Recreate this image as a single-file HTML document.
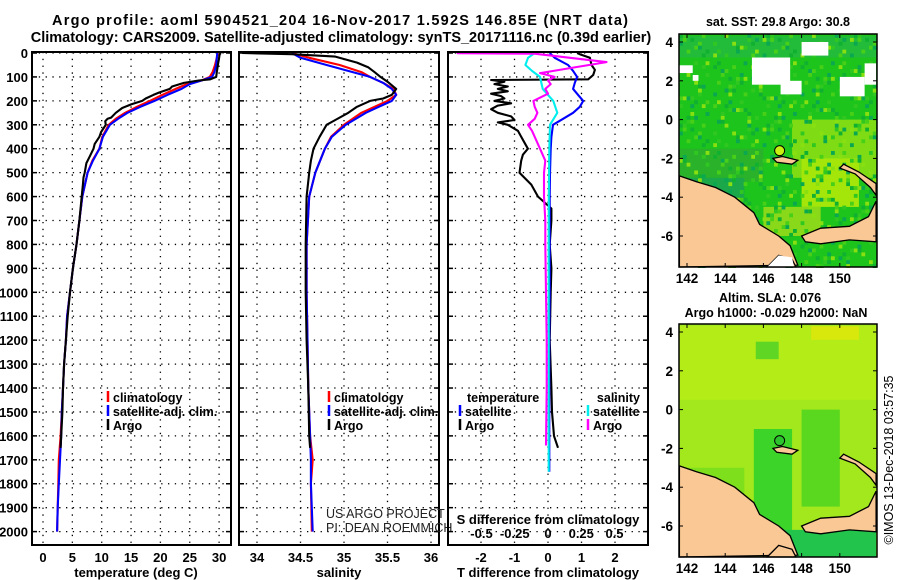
<!DOCTYPE html>
<html><head><meta charset="utf-8"><style>
html,body{margin:0;padding:0;background:#fff}
svg{display:block;font-family:"Liberation Sans",sans-serif}
.b{font-weight:bold}
</style></head><body>
<svg id="s" width="900" height="580" viewBox="0 0 900 580" xmlns="http://www.w3.org/2000/svg">
<text class="b" x="52" y="25" font-size="14.5" textLength="576" lengthAdjust="spacing">Argo profile: aoml 5904521_204 16-Nov-2017 1.592S 146.85E (NRT data)</text>
<text class="b" x="341" y="42" font-size="14.5" text-anchor="middle">Climatology: CARS2009. Satellite-adjusted climatology: synTS_20171116.nc (0.39d earlier)</text>
<g id="g"></g>
</svg>
<script>
// ---- depth axis ----
const depthTicks=[0,100,200,300,400,500,600,700,800,900,1000,1100,1200,1300,1400,1500,1600,1700,1800,1900,2000];
// ---- temperature panel ----
const tempTicks=[0,5,10,15,20,25,30];
const argoDepth=[0,5,20,50,80,100,110,115,125,140,150,165,175,190,200,215,230,250,270,275,285,300,330,350,380,400,430,460,500,520,550,600,700,800,900,1000,1100,1200,1300,1400,1500,1600,1650];
const argoTemp=[30.3,30.1,30.0,29.8,29.6,29.5,28.5,26.5,24,22,21.6,19.8,18.8,17.5,16.9,15,13.5,12.4,11.6,11.0,10.6,10.7,9.9,9.6,8.8,8.6,8.0,7.4,7.1,6.9,6.8,6.6,6.2,5.7,5.1,4.6,4.2,3.9,3.6,3.4,3.3,3.1,3.0];
const climDepth=[0,20,50,80,100,115,130,150,175,200,225,250,275,300,350,400,450,500,600,700,800,900,1000,1100,1200,1300,1400,1500,1600,1700,1800,1900,2000];
const climTemp=[29.8,29.6,29.3,28.9,28.4,27,24.5,22.6,20.3,18.2,16,14,12.4,11.2,10.1,9.6,8.4,7.6,6.7,6.2,5.7,5.1,4.6,4.1,3.9,3.6,3.4,3.2,3.0,2.7,2.6,2.5,2.4];
const satTemp=[29.7,29.6,29.5,29.2,28.8,27,25,23.6,21.2,19.0,16.6,14.4,12.8,11.4,10.2,9.6,8.5,7.6,6.7,6.2,5.7,5.1,4.6,4.1,3.9,3.6,3.4,3.2,3.1,2.9,2.7,2.5,2.4];
// ---- salinity panel ----
const salTicks=[34,34.5,35,35.5,36];
const salTickLabels=["34","34.5","35","35.5","36"];
const argoSalDepth=[0,5,15,40,60,80,100,120,150,175,190,200,225,250,280,300,350,400,450,500,600,800,1000,1200,1400,1600,1650];
const argoSal=[33.83,34.4,34.9,35.15,35.28,35.35,35.42,35.5,35.6,35.55,35.45,35.3,35.15,35.05,34.9,34.8,34.72,34.65,34.62,34.6,34.57,34.56,34.56,34.57,34.59,34.6,34.61];
const climSalDepth=[0,20,50,80,100,125,150,175,200,225,250,300,350,400,500,600,800,1000,1200,1400,1600,1700,1800,2000];
const climSal=[34.4,34.6,34.95,35.2,35.3,35.45,35.57,35.6,35.5,35.35,35.2,35.0,34.85,34.78,34.67,34.6,34.57,34.57,34.58,34.59,34.61,34.64,34.62,34.63];
const satSal=[34.4,34.5,34.8,35.1,35.3,35.45,35.55,35.6,35.55,35.4,35.25,35.02,34.86,34.78,34.67,34.6,34.57,34.57,34.58,34.59,34.61,34.62,34.62,34.64];
// ---- difference panel ----
const tDiffTicks=[-2,-1,0,1,2];
const sDiffTicks=[-0.5,-0.25,0,0.25,0.5];
const sDiffLabels=["-0.5","-0.25","0","0.25","0.5"];
const dTArgoDepth=[0,5,20,50,70,92,110,113,120,130,140,150,160,170,180,190,200,210,220,235,250,265,280,290,300,325,350,375,400,425,450,500,550,600,650,700,800,900,1000,1200,1400,1500,1600,1650];
const dTArgo=[0.87,0.95,1.25,1.3,1.4,1.35,1.2,-1.7,-1.3,-1.6,-1.2,-1.5,-1.2,-1.7,-1.4,-1.3,-1.6,-1.1,-1.5,-1.7,-1.5,-1.1,-1.0,-1.5,-1.2,-0.9,-0.8,-0.7,-0.6,-0.75,-0.8,-0.85,-0.5,-0.3,0.1,0.1,0.05,0.1,0.08,0.05,0.1,0.12,0.18,0.3];
const dTSatDepth=[0,20,50,75,100,125,150,175,200,225,250,275,300,350,400,500,600,800,1000,1200,1400,1600,1750];
const dTSat=[0.05,0.2,0.6,0.75,0.87,0.8,0.75,0.9,1.05,0.95,0.75,0.45,0.15,0.1,0.08,0.06,0.05,0.05,0.05,0.04,0.04,0.04,0.04];
const dSArgoDepth=[0,1,3,38,60,84,100,115,130,150,170,200,225,250,275,300,325,350,400,450,500,600,700,800,1000,1200,1400,1640];
const dSArgo=[-0.68,-0.68,-0.1,0.44,0.2,-0.06,0.05,0.0,0.02,-0.02,0.0,-0.11,-0.1,-0.08,-0.1,-0.15,-0.12,-0.1,-0.06,-0.02,-0.03,-0.03,-0.02,-0.02,-0.015,-0.01,-0.01,-0.015];
const dSSatDepth=[0,20,50,75,100,150,200,250,300,400,600,800,1000,1200,1400,1600,1750];
const dSSat=[-0.1,-0.15,-0.17,-0.12,-0.06,-0.04,0.04,0.07,0.015,0.01,0.006,0.005,0.005,0.005,0.005,0.005,0.005];
// ---- map axes ----
const lonTicks=[142,144,146,148,150];
const latTicks=[4,2,0,-2,-4,-6];

const NS="http://www.w3.org/2000/svg";
const G=document.getElementById('g');
function mk(tag,attrs,parent,txt){const e=document.createElementNS(NS,tag);for(const k in attrs)e.setAttribute(k,attrs[k]);if(txt!==undefined)e.textContent=txt;(parent||G).appendChild(e);return e;}
const yD=d=>53+d*0.2393;
const PT={x0:32,x1:231}, PS={x0:239,x1:439}, PD={x0:448,x1:648};
const xT=v=>43+v*5.87;
const xS=v=>257+(v-34)*87;
const xTD=v=>548+v*33.5;
const xSD=v=>548+v*133;
const TOP=52,BOT=545;

function gridV(p,xs){xs.forEach(x=>{const l=mk('line',{x1:x,x2:x,y1:TOP,y2:BOT,stroke:'#000','stroke-width':1.3,'stroke-dasharray':'1.3 5.5'});});}
function gridH(p){depthTicks.forEach(d=>{const l=mk('line',{x1:p.x0,x2:p.x1,y1:yD(d),y2:yD(d),stroke:'#000','stroke-width':1.3,'stroke-dasharray':'1.3 5.5'});
 const t1=mk('line',{x1:p.x0,x2:p.x0+5,y1:yD(d),y2:yD(d),stroke:'#000','stroke-width':1.5});
 const t2=mk('line',{x1:p.x1-5,x2:p.x1,y1:yD(d),y2:yD(d),stroke:'#000','stroke-width':1.5});});}
function frame(p,name){const r=mk('rect',{x:p.x0,y:TOP,width:p.x1-p.x0,height:BOT-TOP,fill:'none',stroke:'#000','stroke-width':2});}
function line(xs,ds,fx,color,name,w){const pts=xs.map((v,i)=>fx(v).toFixed(1)+','+yD(ds[i]).toFixed(1)).join(' ');const l=mk('polyline',{points:pts,fill:'none',stroke:color,'stroke-width':w||2.1,'stroke-linejoin':'round'});}
function txt(x,y,s,opts,name){const t=mk('text',Object.assign({x:x,y:y,'font-size':13},opts||{}),G,s);return t;}
function legend(x,y,color,label,name){const l=mk('line',{x1:x,x2:x,y1:y-11,y2:y,stroke:color,'stroke-width':2.5});txt(x+5,y,label,{class:'b','font-size':12.5},name);}

// Panel 1
gridH(PT);gridV(PT,tempTicks.map(xT));
line(climTemp,climDepth,xT,'#f00','climatology-temp-line');
line(satTemp,climDepth,xT,'#00f','satellite-temp-line');
line(argoTemp,argoDepth,xT,'#000','argo-temp-line');
frame(PT,'temperature-panel');
depthTicks.forEach(d=>txt(28,yD(d)+5,String(d),{class:'b','text-anchor':'end'},'depth-label'));
tempTicks.forEach(v=>txt(xT(v),562,String(v),{class:'b','text-anchor':'middle'},'temperature-tick-label'));
txt(136,577,'temperature (deg C)',{class:'b','text-anchor':'middle'},'temperature-axis-title');
legend(108,402,'#f00','climatology','legend-climatology');
legend(108,416,'#00f','satellite-adj. clim.','legend-satellite');
legend(108,430,'#000','Argo','legend-argo');

// Panel 2
gridH(PS);gridV(PS,salTicks.map(xS));
line(climSal,climSalDepth,xS,'#f00','climatology-salinity-line');
line(satSal,climSalDepth,xS,'#00f','satellite-salinity-line');
line(argoSal,argoSalDepth,xS,'#000','argo-salinity-line');
frame(PS,'salinity-panel');
salTicks.forEach((v,i)=>txt(xS(v),562,salTickLabels[i],{class:'b','text-anchor':'middle'},'salinity-tick-label'));
txt(339,577,'salinity',{class:'b','text-anchor':'middle'},'salinity-axis-title');
legend(329,402,'#f00','climatology','legend-climatology');
legend(329,416,'#00f','satellite-adj. clim.','legend-satellite');
legend(329,430,'#000','Argo','legend-argo');
txt(326,518,'US ARGO PROJECT',{'font-size':12.5,fill:'#222'},'credit-line-1');
txt(326,532,'PI: DEAN ROEMMICH',{'font-size':12.5,fill:'#222'},'credit-line-2');

// Panel 3
gridH(PD);gridV(PD,tDiffTicks.map(xTD));
line(dTArgo,dTArgoDepth,xTD,'#000','argo-temp-diff-line');
line(dTSat,dTSatDepth,xTD,'#00f','satellite-temp-diff-line');
line(dSSat,dSSatDepth,xSD,'#0ee','satellite-salinity-diff-line');
line(dSArgo,dSArgoDepth,xSD,'#f0f','argo-salinity-diff-line');
frame(PD,'difference-panel');
txt(467,402,'temperature',{class:'b','font-size':12.5},'legend-temperature-heading');
legend(460,416,'#00f','satellite','legend-temp-satellite');
legend(460,430,'#000','Argo','legend-temp-argo');
txt(640,402,'salinity',{class:'b','font-size':12.5,'text-anchor':'end'},'legend-salinity-heading');
legend(588,416,'#0ee','satellite','legend-sal-satellite');
legend(588,430,'#f0f','Argo','legend-sal-argo');
txt(548,524,'S difference from climatology',{class:'b','text-anchor':'middle'},'s-diff-axis-title');
sDiffTicks.forEach((v,i)=>txt(xSD(v),538,sDiffLabels[i],{class:'b','text-anchor':'middle'},'s-diff-tick-label'));
tDiffTicks.forEach(v=>txt(xTD(v),562,String(v),{class:'b','text-anchor':'middle'},'t-diff-tick-label'));
txt(548,577,'T difference from climatology',{class:'b','text-anchor':'middle'},'t-diff-axis-title');

// Maps
function map(y0,kind){
 const X0=679,X1=877,Y1=y0+233;
 const lx=l=>687+(l-142)*19.1, ly=l=>(y0+8)+(4-l)*19.4;
 const grp=mk('g',{});
 mk('rect',{x:X0,y:y0,width:X1-X0,height:233,fill:kind==='sst'?'#1cc41c':'#a2e81c'},grp);
 if(kind==='sst'){
  [[141.6,-1.5,146,-3.2,'#2ab32a'],[147.5,0,151.9,-3,'#7fdc14'],[148,-2,151,-4.5,'#a5e60a'],[141.6,4.3,151.9,3.2,'#22bb3a'],[142,-3,145,-5,'#1aa84a'],[146,-4.5,149,-6,'#8ad81a']].forEach(r=>mk('rect',{x:lx(r[0]),y:ly(r[1]),width:lx(r[2])-lx(r[0]),height:ly(r[3])-ly(r[1]),fill:r[4]},grp));
  // pixel texture
  const cols=['#10b030','#48d018','#88e010','#0aa850','#30c820'];
  for(let i=0;i<52;i++)for(let j=0;j<60;j++){const h=(i*73+j*151+i*j*7)%23;if(h<5){mk('rect',{x:X0+i*3.8,y:y0+j*3.9,width:3.8,height:3.9,fill:cols[h]},grp);}}
  [[145.4,3.2,147.4,1.8],[146.9,2,148,1.3],[148,4,149.4,3.3],[150,2.2,151.3,1.2],[151.3,2.9,151.9,1.8],[141.6,2.8,142.3,2.4],[142.3,2.3,142.6,2.0]].forEach(r=>mk('rect',{x:lx(r[0]),y:ly(r[1]),width:lx(r[2])-lx(r[0]),height:ly(r[3])-ly(r[1]),fill:'#fff'},grp));
  mk('rect',{x:lx(143.8),y:ly(-5.1),width:18,height:14,fill:'#12d0d0'},grp);
 } else {
  [[141.6,4.3,151.9,0.5,'#b4ec18'],[145.5,-1,147.5,-7,'#3cd428'],[148,0,150,-5,'#5ad820'],[142,-3,145,-5,'#7ee01c'],[147,-6.2,151.9,-7.6,'#22c44c'],[145.6,3.5,146.8,2.6,'#60d624'],[148.5,4.3,151,3.6,'#d8e80c']].forEach(r=>mk('rect',{x:lx(r[0]),y:ly(r[1]),width:lx(r[2])-lx(r[0]),height:ly(r[3])-ly(r[1]),fill:r[4]},grp));
 }
 const land=[[[141.6,-2.9],[142.5,-3.2],[143.5,-3.5],[144.5,-4],[145.5,-4.8],[145.8,-5.4],[146.8,-6],[147.4,-6.5],[147.8,-7.5],[141.6,-7.6]],
  [[148,-6],[149,-5.6],[150.5,-5.5],[151.5,-5],[151.9,-4.2],[151.9,-6.3],[150.5,-6.2],[149,-6.4],[148.2,-6.3]],
  [[150,-2.5],[150.8,-2.8],[151.6,-3.5],[151.9,-3.9],[151.9,-3.3],[151,-2.7],[150.2,-2.3]],
  [[146.5,-2],[147,-1.9],[147.8,-2.1],[147.5,-2.3],[146.7,-2.2]],
  [[146.2,-7.6],[146.8,-7],[147.5,-7.2],[147.7,-7.6]]];
 land.forEach((poly,i)=>{const p=mk('polygon',{points:poly.map(q=>lx(q[0]).toFixed(1)+','+ly(q[1]).toFixed(1)).join(' '),fill:'#f9c894',stroke:'#000','stroke-width':1.3},grp);});
 if(kind==='sst'){mk('polygon',{points:[[146.2,-7.6],[146.8,-7],[147.5,-7.1],[147.6,-7.6]].map(q=>lx(q[0])+','+ly(q[1])).join(' '),fill:'#fff'},grp);}
 const c=mk('circle',{cx:lx(146.85),cy:ly(-1.6),r:5,fill:kind==='sst'?'#c8f010':'#2cc42c',stroke:'#000','stroke-width':1},grp);
 
 mk('rect',{x:X0,y:y0,width:X1-X0,height:233,fill:'none',stroke:'#000','stroke-width':1.5},grp);
 lonTicks.forEach(l=>{mk('line',{x1:lx(l),x2:lx(l),y1:y0,y2:y0+4,stroke:'#000'},grp);mk('line',{x1:lx(l),x2:lx(l),y1:Y1-4,y2:Y1,stroke:'#000'},grp);txt(lx(l),Y1+16,String(l),{class:'b','font-size':13.5,'text-anchor':'middle'},'longitude-label');});
 latTicks.forEach(l=>{mk('line',{x1:X0,x2:X0+4,y1:ly(l),y2:ly(l),stroke:'#000'},grp);mk('line',{x1:X1-4,x2:X1,y1:ly(l),y2:ly(l),stroke:'#000'},grp);txt(673,ly(l)+5,String(l),{class:'b','font-size':13.5,'text-anchor':'end'},'latitude-label');});
}
map(34,'sst');map(324,'sla');
txt(778,26,'sat. SST: 29.8 Argo: 30.8',{class:'b','font-size':12.5,'text-anchor':'middle'},'sst-map-title');
txt(770,302,'Altim. SLA: 0.076',{class:'b','font-size':12.5,'text-anchor':'middle'},'sla-map-title');
txt(776,317,'Argo h1000: -0.029 h2000: NaN',{class:'b','font-size':12.5,'text-anchor':'middle'},'sla-map-subtitle');
txt(0,0,'©IMOS 13-Dec-2018 03:57:35',{'font-size':12.5,'text-anchor':'middle',transform:'translate(893,460) rotate(-90)'},'timestamp-credit');
</script>
</body></html>
